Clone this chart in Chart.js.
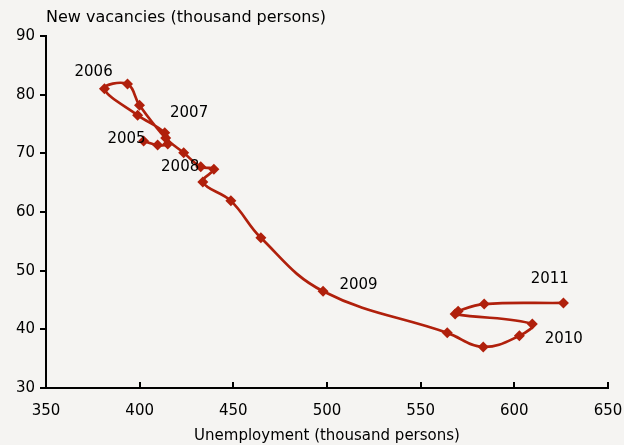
<!DOCTYPE html>
<html>
<head>
<meta charset="utf-8">
<script src="https://cdn.jsdelivr.net/npm/chart.js@4"></script>
<style>
  html, body { margin: 0; padding: 0; background: #f5f4f2; }
  #wrap { width: 624px; height: 445px; position: relative; }
</style>
</head>
<body>
<div id="wrap"><canvas id="chart" width="624" height="445"></canvas></div>
<script>
// Beveridge curve, quarterly points (thousand persons)
const unemployment = [402.1, 409.6, 415.0, 413.4, 398.9, 381.2, 393.5, 399.9, 413.9, 423.5,
                      432.6, 439.6, 433.7, 448.7, 464.7, 497.9, 564.2, 583.4, 602.7, 609.6,
                      568.4, 570.0, 583.9, 626.2];
const vacancies = [72.1, 71.4, 71.6, 73.5, 76.5, 81.0, 81.8, 78.2, 72.6, 70.1,
                   67.7, 67.3, 65.1, 61.9, 55.6, 46.5, 39.4, 37.0, 38.9, 40.9,
                   42.6, 43.1, 44.3, 44.5];

// year annotations, anchored in data units
const yearLabels = ['2005', '2006', '2007', '2008', '2009', '2010', '2011'];
const yearLabelX = [393.0, 375.4, 426.4, 421.6, 516.8, 626.4, 618.9];
const yearLabelY = [72.4, 83.9, 76.9, 67.7, 47.6, 38.4, 48.6];

const xTicks = [350, 400, 450, 500, 550, 600, 650];
const yTicks = [30, 40, 50, 60, 70, 80, 90];

const lineColor = '#b0200c';
const fontFamily = '"DejaVu Sans", Verdana, sans-serif';

// y-otsikko, vuosi-tekstit ja x-akselin sisäänpäin osoittavat tikit
const extras = {
    id: 'extras',
    afterDraw(chart) {
        const ctx = chart.ctx;
        const area = chart.chartArea;
        const xs = chart.scales.x, ys = chart.scales.y;
        ctx.save();
        ctx.strokeStyle = '#000';
        ctx.lineWidth = 2;
        xTicks.forEach(v => {
            const px = Math.round(xs.getPixelForValue(v));
            ctx.beginPath();
            ctx.moveTo(px, area.bottom);
            ctx.lineTo(px, area.bottom - 6);
            ctx.stroke();
        });
        ctx.fillStyle = '#000';
        ctx.font = '16px ' + fontFamily;
        ctx.textAlign = 'left';
        ctx.textBaseline = 'middle';
        ctx.fillText('New vacancies (thousand persons)', area.left, 18);
        ctx.font = '15px ' + fontFamily;
        ctx.textAlign = 'center';
        yearLabels.forEach((t, i) => {
            ctx.fillText(t, xs.getPixelForValue(yearLabelX[i]), ys.getPixelForValue(yearLabelY[i]));
        });
        ctx.restore();
    }
};

const bgPlugin = {
    id: 'bg',
    beforeDraw(chart) {
        const ctx = chart.ctx;
        ctx.save();
        ctx.fillStyle = '#f5f4f2';
        ctx.fillRect(0, 0, chart.width, chart.height);
        ctx.restore();
    }
};

new Chart(document.getElementById('chart'), {
    type: 'scatter',
    data: {
        datasets: [{
            data: unemployment.map((u, i) => ({ x: u, y: vacancies[i] })),
            showLine: true,
            borderColor: lineColor,
            backgroundColor: lineColor,
            borderWidth: 2.7,
            tension: 0.4,
            pointStyle: 'rectRot',
            pointRadius: 5.5,
            pointBorderWidth: 0,
            pointHoverRadius: 5.5
        }]
    },
    options: {
        responsive: false,
        animation: false,
        devicePixelRatio: 1,
        layout: { padding: { top: 36, right: 16, left: 0, bottom: 0 } },
        plugins: {
            legend: { display: false },
            tooltip: { enabled: false }
        },
        scales: {
            x: {
                min: 350, max: 650,
                afterBuildTicks: s => { s.ticks = xTicks.map(v => ({ value: v })); },
                afterFit: s => { s.height = 57; s.paddingLeft = 0; s.paddingRight = 0; },
                grid: { drawOnChartArea: false, drawTicks: false },
                border: { color: '#000', width: 2 },
                ticks: { color: '#000', font: { family: fontFamily, size: 15 }, padding: 14, maxRotation: 0 },
                title: {
                    display: true, text: 'Unemployment (thousand persons)',
                    color: '#000', font: { family: fontFamily, size: 15 }, padding: { top: 0, bottom: 0 }
                }
            },
            y: {
                min: 30, max: 90,
                afterBuildTicks: s => { s.ticks = yTicks.map(v => ({ value: v })); },
                afterFit: s => { s.width = 46; s.paddingTop = 0; s.paddingBottom = 0; },
                grid: { drawOnChartArea: false, drawTicks: true, tickLength: 6, color: '#000', lineWidth: 2 },
                border: { color: '#000', width: 2 },
                ticks: { color: '#000', font: { family: fontFamily, size: 15 }, padding: 5 }
            }
        }
    },
    plugins: [bgPlugin, extras]
});
</script>
</body>
</html>
